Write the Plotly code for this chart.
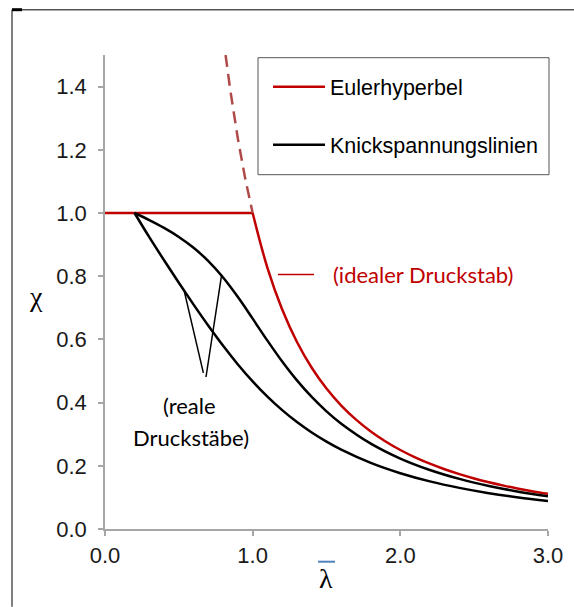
import plotly.graph_objects as go

# ---- data ----
plateau_x = [0.0, 1.0]
plateau_y = [1.0, 1.0]

euler_dash_x = [0.8165, 0.85, 0.9, 0.95, 1.0]
euler_dash_y = [1.5, 1.384, 1.2346, 1.108, 1.0]

euler_x = [1.0, 1.1, 1.2, 1.3, 1.4, 1.5, 1.6, 1.7, 1.8, 1.9, 2.0, 2.1, 2.2, 2.3, 2.4, 2.5, 2.6, 2.7, 2.8, 2.9, 3.0]
euler_y = [1.0, 0.8264, 0.6944, 0.5917, 0.5102, 0.4444, 0.3906, 0.3460, 0.3086, 0.2770, 0.25,
           0.2268, 0.2066, 0.1890, 0.1736, 0.16, 0.1479, 0.1372, 0.1276, 0.1189, 0.1111]

curve_x = [0.2, 0.3, 0.4, 0.5, 0.6, 0.7, 0.8, 0.9, 1.0, 1.1, 1.2, 1.3, 1.4, 1.5, 1.6, 1.8, 2.0, 2.2, 2.4, 2.6, 2.8, 3.0]
upper_y = [1.0, 0.9775, 0.9528, 0.9243, 0.8900, 0.8477, 0.7957, 0.7339, 0.6656, 0.5960, 0.5300, 0.4703,
           0.4179, 0.3724, 0.3332, 0.2702, 0.2229, 0.1867, 0.1585, 0.1362, 0.1182, 0.1036]
lower_y = [1.0, 0.9235, 0.8504, 0.7793, 0.7100, 0.6431, 0.5797, 0.5208, 0.4671, 0.4189, 0.3762, 0.3385,
           0.3055, 0.2766, 0.2512, 0.2093, 0.1766, 0.1508, 0.1302, 0.1134, 0.0997, 0.0882]

x_ticks = [0, 1, 2, 3]
y_ticks = [0.0, 0.2, 0.4, 0.6, 0.8, 1.0, 1.2, 1.4]

legend_labels = ["Eulerhyperbel", "Knickspannungslinien"]
label_ideal = "(idealer Druckstab)"
label_real = ["(reale", "Druckstäbe)"]

RED = "#c00000"
DASHRED = "#b04a48"
AXIS = "#a6a6a6"
SANS = "Arial, Liberation Sans, sans-serif"
SERIF = "Liberation Serif, DejaVu Serif, serif"
CAL = "Lato, sans-serif"

fig = go.Figure()
fig.add_trace(go.Scatter(x=plateau_x, y=plateau_y, mode="lines",
                         line=dict(color=RED, width=2.5), showlegend=False))
fig.add_trace(go.Scatter(x=euler_dash_x, y=euler_dash_y, mode="lines",
                         line=dict(color=DASHRED, width=2.5, dash="12px,7px"), showlegend=False))
fig.add_trace(go.Scatter(x=euler_x, y=euler_y, mode="lines", line_shape="spline",
                         line=dict(color=RED, width=2.5), showlegend=False))
fig.add_trace(go.Scatter(x=curve_x, y=upper_y, mode="lines", line_shape="spline",
                         line=dict(color="black", width=2.5), showlegend=False))
fig.add_trace(go.Scatter(x=curve_x, y=lower_y, mode="lines", line_shape="spline",
                         line=dict(color="black", width=2.5), showlegend=False))

# leader lines for "(reale Druckstäbe)"
fig.add_shape(type="line", x0=0.537, y0=0.752, x1=0.666, y1=0.494,
              line=dict(color="black", width=1.5))
fig.add_shape(type="line", x0=0.684, y0=0.481, x1=0.790, y1=0.805,
              line=dict(color="black", width=1.5))
# red leader for "(idealer Druckstab)"
fig.add_shape(type="line", x0=1.171, y0=0.805, x1=1.415, y1=0.805,
              line=dict(color=RED, width=1.5))
fig.add_annotation(x=1.53, y=0.805, text=label_ideal, showarrow=False,
                   xanchor="left", yanchor="middle",
                   font=dict(family=CAL, size=22, color=RED))
fig.add_annotation(x=0.57, y=0.39, text=label_real[0], showarrow=False,
                   xanchor="center", yanchor="middle",
                   font=dict(family=CAL, size=22, color="black"))
fig.add_annotation(x=0.585, y=0.288, text=label_real[1], showarrow=False,
                   xanchor="center", yanchor="middle",
                   font=dict(family=CAL, size=22, color="black"))

# manual legend box
def px2x(px):
    return (px - 105) / 443.0

def py2y(py):
    return (529.3 - py) / 474.0

fig.add_shape(type="rect", xref="paper", yref="paper", x0=px2x(258), x1=px2x(549),
              y0=py2y(175), y1=py2y(58), line=dict(color="#555555", width=1))
for lbl, col, py in zip(legend_labels, [RED, "black"], [87, 145]):
    fig.add_shape(type="line", xref="paper", yref="paper", x0=px2x(273), x1=px2x(325),
                  y0=py2y(py), y1=py2y(py), line=dict(color=col, width=2.5))
    fig.add_annotation(xref="paper", yref="paper", x=px2x(328), y=py2y(py + 1), text=lbl,
                       showarrow=False, xanchor="left", yanchor="middle",
                       font=dict(family=SANS, size=21.5, color="black"))

# outer frame
fig.add_shape(type="line", xref="paper", yref="paper", x0=px2x(12), x1=px2x(574),
              y0=py2y(10), y1=py2y(10), line=dict(color="#555555", width=1.5))
fig.add_shape(type="line", xref="paper", yref="paper", x0=px2x(12), x1=px2x(12),
              y0=py2y(10), y1=py2y(607), line=dict(color="#555555", width=1.5))
fig.add_shape(type="line", xref="paper", yref="paper", x0=px2x(12), x1=px2x(22),
              y0=py2y(10), y1=py2y(10), line=dict(color="black", width=3))

# axis titles
fig.add_annotation(xref="paper", yref="paper", x=px2x(36), y=py2y(297), text="χ",
                   showarrow=False, xanchor="center", yanchor="middle",
                   font=dict(family=SERIF, size=28, color="black"))
fig.add_annotation(xref="paper", yref="paper", x=px2x(326), y=py2y(579), text="λ",
                   showarrow=False, xanchor="center", yanchor="middle",
                   font=dict(family=SERIF, size=28, color="black"))
fig.add_shape(type="line", xref="paper", yref="paper", x0=px2x(318), x1=px2x(335),
              y0=py2y(562), y1=py2y(562), line=dict(color="#4f81bd", width=2))

fig.update_layout(
    width=574, height=607,
    margin=dict(l=105, r=26, t=55, b=78),
    paper_bgcolor="white", plot_bgcolor="white",
    showlegend=False,
    font=dict(family=SANS, size=22, color="#1a1a1a"),
)
fig.update_xaxes(range=[0, 3], tickvals=x_ticks, tickformat=".1f", showgrid=False, zeroline=False,
                 showline=True, linecolor=AXIS, linewidth=1.5, ticks="outside", ticklen=5,
                 tickcolor=AXIS, tickwidth=1.5, tickfont=dict(family=SANS, size=22),
                 ticklabelstandoff=1)
fig.update_yaxes(range=[0, 1.5], tickvals=y_ticks, tickformat=".1f", showgrid=False, zeroline=False,
                 showline=True, linecolor=AXIS, linewidth=1.5, ticks="outside", ticklen=5,
                 tickcolor=AXIS, tickwidth=1.5, tickfont=dict(family=SANS, size=22),
                 ticklabelstandoff=7)

fig.write_html("out.html")
